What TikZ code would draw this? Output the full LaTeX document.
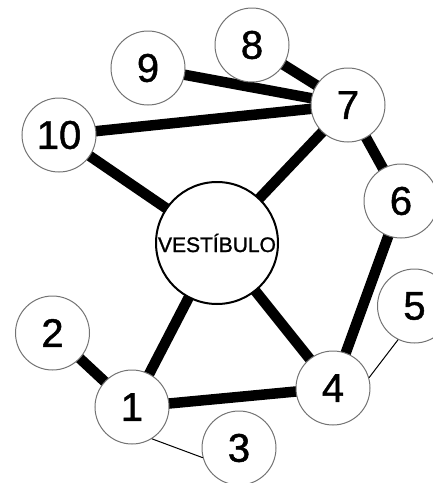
\documentclass[tikz,border=0pt]{standalone}
\usepackage{fontspec}
\setmainfont{Liberation Sans}
\newfontfamily\heavyfont[FakeBold=1.2]{Liberation Sans}
\usetikzlibrary{backgrounds}
\begin{document}
\begin{tikzpicture}[x=1pt,y=-1pt,
  room/.style={circle,draw=black!55,line width=1pt,fill=white,minimum size=74pt,inner sep=0pt,font=\heavyfont\fontsize{40}{40}\selectfont},
  hall/.style={circle,draw=black,line width=2pt,fill=white,minimum size=122pt,inner sep=0pt,font=\heavyfont\fontsize{21}{21}\selectfont},
  wide/.style={line width=10.5pt},
  slim/.style={line width=1pt}]
\useasboundingbox (0,0) rectangle (433,483);
\node[hall] (v) at (217,243) {VESTÍBULO};
\node[room] (n1) at (132,407) {1};
\node[room] (n2) at (52.5,333) {2};
\node[room] (n3) at (239,448) {3};
\node[room] (n4) at (333,388) {4};
\node[room] (n5) at (414.5,306) {5};
\node[room] (n6) at (401,201) {6};
\node[room] (n7) at (348,105) {7};
\node[room] (n8) at (252,45) {8};
\node[room] (n9) at (148,68) {9};
\node[room] (n10) at (59,135) {10};
\begin{pgfonlayer}{background}
\draw[wide] (n9.center) -- (n7.center);
\draw[wide] (n8.center) -- (n7.center);
\draw[wide] (n10.center) -- (n7.center);
\draw[wide] (n10.center) -- (v.center);
\draw[wide] (v.center) -- (n7.center);
\draw[wide] (n7.center) -- (n6.center);
\draw[wide] (n6.center) -- (n4.center);
\draw[wide] (v.center) -- (n1.center);
\draw[wide] (v.center) -- (n4.center);
\draw[wide] (n2.center) -- (n1.center);
\draw[wide] (n1.center) -- (n4.center);
\end{pgfonlayer}
\draw[slim] (n4.16) -- (n5.244);
\draw[slim] (n1.-58) -- (n3.195);
\end{tikzpicture}
\end{document}
